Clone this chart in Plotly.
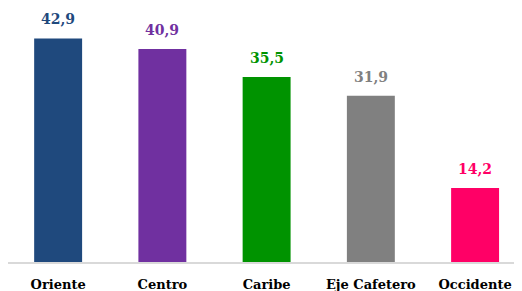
import plotly.graph_objects as go

categories = ["Oriente", "Centro", "Caribe", "Eje Cafetero", "Occidente"]
values = [42.9, 40.9, 35.5, 31.9, 14.2]
labels = ["42,9", "40,9", "35,5", "31,9", "14,2"]
colors = ["#1F497D", "#7030A0", "#009300", "#808080", "#FF0066"]

FONT = "DejaVu Serif"

fig = go.Figure()
fig.add_trace(go.Bar(
    x=list(range(len(categories))),
    y=values,
    marker=dict(color=colors, line=dict(width=0)),
    width=0.46,
    hoverinfo="skip",
))

for i, (v, t, c) in enumerate(zip(values, labels, colors)):
    fig.add_annotation(
        x=i, y=v, text=f"<b>{t}</b>", showarrow=False,
        yanchor="bottom", yshift=9,
        font=dict(family=FONT, size=14, color=c),
    )

fig.update_layout(
    width=514, height=283,
    margin=dict(l=0, r=0, t=0, b=29, autoexpand=False),
    paper_bgcolor="white", plot_bgcolor="white",
    showlegend=False,
    xaxis=dict(
        range=[-0.481, 4.45],
        tickmode="array",
        tickvals=list(range(len(categories))),
        ticktext=[f"<b>{c}</b>" for c in categories],
        tickfont=dict(family=FONT, size=13, color="black"),
        showline=True, linecolor="#D9D9D9", linewidth=2,
        showgrid=False, zeroline=False, ticks="", automargin=False,
        ticklabelstandoff=9,
    ),
    yaxis=dict(
        range=[0, 48.75], visible=False, showgrid=False, zeroline=False,
    ),
)

fig.write_html("out.html")
